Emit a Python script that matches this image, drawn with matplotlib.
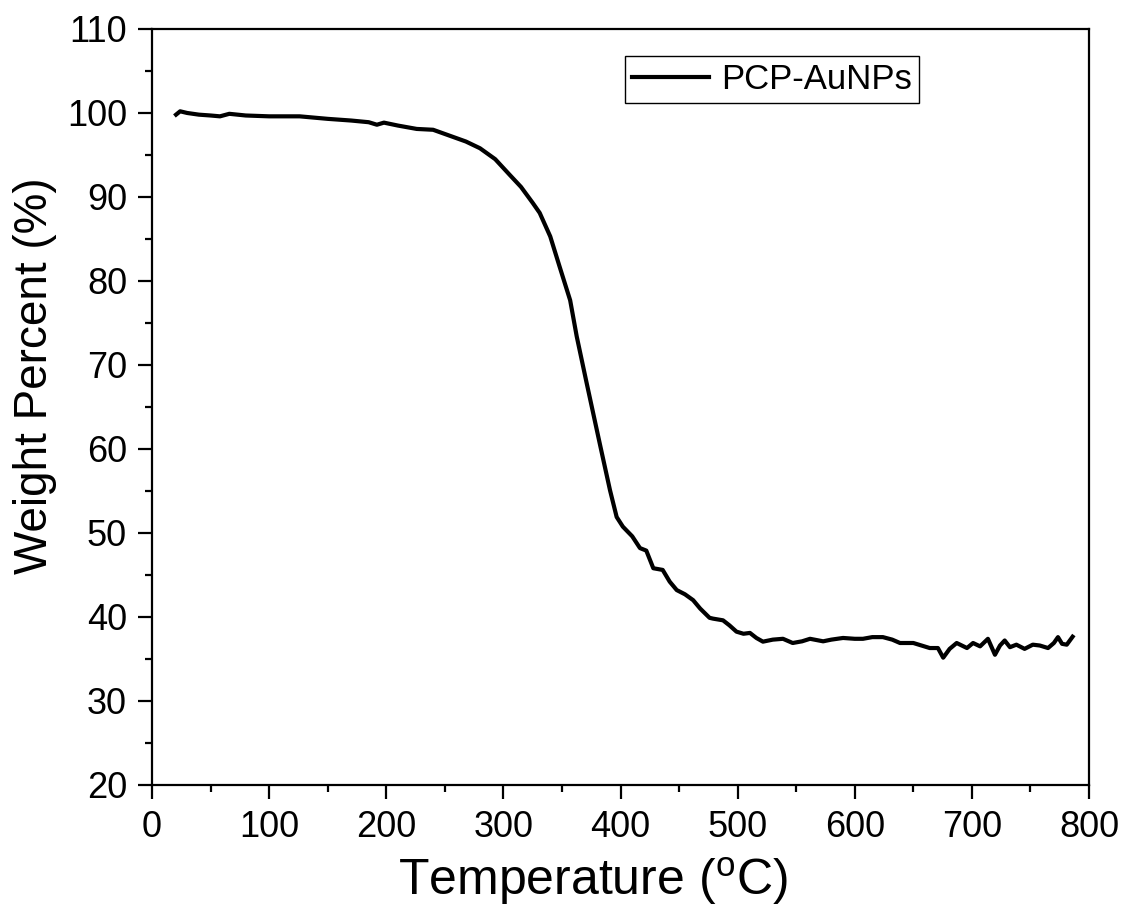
import numpy as np
import matplotlib.pyplot as plt

plt.rcParams['font.family'] = ['Liberation Sans', 'DejaVu Sans']
plt.rcParams['mathtext.fontset'] = 'custom'
plt.rcParams['mathtext.rm'] = 'Liberation Sans'

# TGA curve
temp = [20.5, 24, 30, 40, 50, 58, 66, 80, 100, 126, 150, 170, 185, 192, 198, 210,
        226, 240, 254, 268, 280, 293, 305.6, 315, 325, 331, 340, 348, 357, 362.6,
        371, 382.5, 391, 396.7, 402, 410, 416.6, 422, 428, 436, 442, 448, 455, 462,
        468, 476, 479, 487.5, 493, 499, 505, 510.5, 516, 521.6, 530, 538.7, 547,
        555, 561.8, 573, 580, 590, 600, 607, 615, 624, 632, 638.6, 650, 657, 664,
        671, 675.5, 681, 687, 695.8, 701, 707, 713.7, 719.7, 724, 728, 732.5, 738,
        745, 752, 758, 765, 770, 773.5, 777, 781, 786]
weight = [99.8, 100.2, 100.0, 99.8, 99.7, 99.6, 99.9, 99.7, 99.6, 99.6, 99.3, 99.1, 98.9,
          98.6, 98.85, 98.5, 98.1, 98.0, 97.3, 96.6, 95.8, 94.5, 92.6, 91.2, 89.3, 88.1,
          85.3, 81.7, 77.7, 73.4, 67.9, 60.5, 55.1, 51.9, 50.75, 49.6, 48.2, 47.9, 45.8,
          45.6, 44.2, 43.2, 42.7, 42.0, 41.0, 39.9, 39.8, 39.6, 39.0, 38.25, 38.0, 38.1,
          37.5, 37.06, 37.3, 37.4, 36.9, 37.1, 37.4, 37.1, 37.3, 37.5, 37.4, 37.4, 37.6,
          37.6, 37.3, 36.9, 36.9, 36.6, 36.3, 36.3, 35.15, 36.2, 36.9, 36.3, 36.9, 36.5,
          37.4, 35.5, 36.6, 37.2, 36.4, 36.7, 36.2, 36.7, 36.6, 36.3, 36.9, 37.6, 36.8,
          36.7, 37.65]

fig = plt.figure(figsize=(11.22, 9.17), dpi=100)
ax = fig.add_axes([0.1355, 0.144, 0.8351, 0.8244])

ax.plot(temp, weight, color='black', linewidth=3.0, label='PCP-AuNPs',
        solid_joinstyle='round')

ax.set_xlim(0, 800)
ax.set_ylim(20, 110)
ax.set_xticks(np.arange(0, 801, 100))
ax.set_yticks(np.arange(20, 111, 10))
ax.set_xticks(np.arange(50, 800, 100), minor=True)
ax.set_yticks(np.arange(25, 110, 10), minor=True)
ax.tick_params(which='major', direction='out', length=10, width=1.6, labelsize=26, pad=8)
ax.tick_params(which='minor', direction='out', length=5, width=1.6)
for s in ax.spines.values():
    s.set_linewidth(1.6)

ax.set_xlabel(r'Temperature ($^{\rm o}$C)', fontsize=36)
ax.set_ylabel('Weight Percent (%)', fontsize=33)
ax.xaxis.set_label_coords(0.4707, -0.0926)
ax.yaxis.set_label_coords(-0.1014, 0.542)

leg = ax.legend(loc='upper left', bbox_to_anchor=(0.505, 0.964), borderaxespad=0,
                fontsize=25, handlelength=2.2, handletextpad=0.35, borderpad=0.2,
                fancybox=False, framealpha=1, edgecolor='black')
leg.get_frame().set_linewidth(1.0)

fig.savefig('out.png', dpi=100)
